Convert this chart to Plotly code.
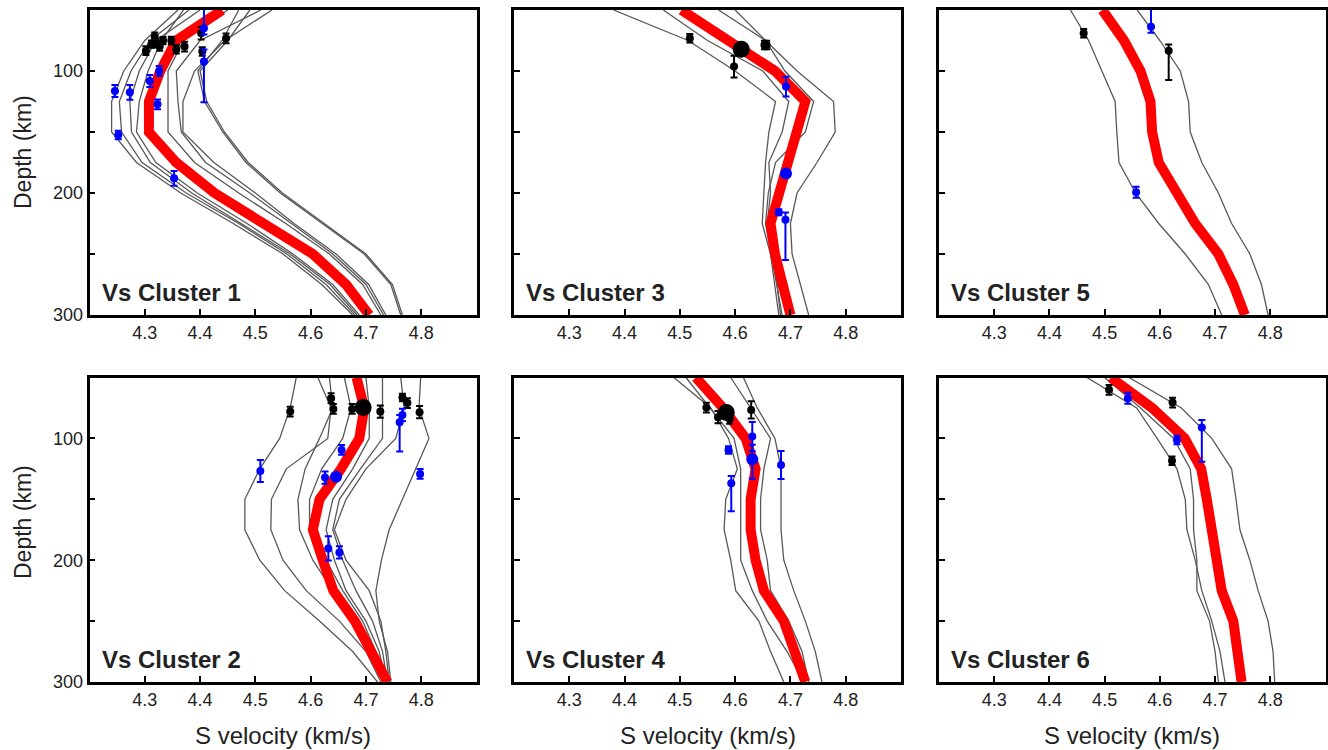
import plotly.graph_objects as go

# ---------------- data ----------------
depth_nodes = [50, 75, 100, 125, 150, 175, 200, 225, 250, 275, 300]

# Cluster 1
c1_mean = [4.44, 4.357, 4.328, 4.3075, 4.3075, 4.357, 4.426, 4.515, 4.604, 4.664, 4.706]
c1_models = [
    [4.36, 4.30, 4.262, 4.240, 4.240, 4.285, 4.365, 4.46, 4.550, 4.620, 4.676],
    [4.38, 4.31, 4.275, 4.254, 4.258, 4.295, 4.375, 4.47, 4.557, 4.628, 4.680],
    [4.40, 4.32, 4.29, 4.273, 4.276, 4.31, 4.385, 4.475, 4.563, 4.635, 4.684],
    [4.37, 4.33, 4.306, 4.29, 4.285, 4.32, 4.395, 4.485, 4.568, 4.64, 4.688],
    [4.45, 4.37, 4.342, 4.342, 4.342, 4.39, 4.47, 4.555, 4.634, 4.694, 4.727],
    [4.51, 4.40, 4.357, 4.36, 4.366, 4.41, 4.49, 4.565, 4.640, 4.70, 4.732],
    [4.53, 4.445, 4.39, 4.369, 4.369, 4.425, 4.50, 4.57, 4.646, 4.705, 4.736],
    [4.47, 4.44, 4.396, 4.408, 4.441, 4.483, 4.545, 4.62, 4.697, 4.745, 4.763],
    [4.49, 4.45, 4.40, 4.412, 4.444, 4.487, 4.549, 4.624, 4.700, 4.748, 4.766],
]
c1_black_v = [4.302, 4.312, 4.318, 4.320, 4.327, 4.333, 4.348, 4.357, 4.372, 4.402, 4.404, 4.447]
c1_black_d = [83.3, 78.0, 71.9, 77.3, 80.0, 75.1, 75.0, 82.2, 80.0, 69.1, 84.1, 73.2]
c1_black_ep = [3.5, 3, 3.5, 3.5, 3.5, 3, 3, 3.5, 4, 5, 3.5, 4]
c1_black_em = [3.5, 3, 3.5, 3.5, 3.5, 3, 3, 3.5, 4, 5, 3.5, 4]
c1_blue_v = [4.246, 4.273, 4.252, 4.309, 4.326, 4.323, 4.353, 4.407, 4.407]
c1_blue_d = [116.4, 117.5, 152.4, 108.2, 100.0, 127.3, 188.0, 65.0, 92.3]
c1_blue_ep = [5, 6, 3.5, 5, 4, 4, 6, 5, 33.4]
c1_blue_em = [5, 6, 3.5, 5, 4, 4, 6, 20, 10]
c1_bigblack_v, c1_bigblack_d = [], []
c1_bigblue_v, c1_bigblue_d = [], []

# Cluster 2
c2_mean = [4.683, 4.697, 4.688, 4.655, 4.616, 4.604, 4.622, 4.641, 4.680, 4.712, 4.739]
c2_models = [
    [4.574, 4.563, 4.544, 4.508, 4.481, 4.481, 4.508, 4.553, 4.616, 4.676, 4.721],
    [4.613, 4.637, 4.631, 4.556, 4.529, 4.528, 4.550, 4.592, 4.652, 4.700, 4.727],
    [4.634, 4.640, 4.616, 4.590, 4.577, 4.580, 4.604, 4.640, 4.688, 4.712, 4.730],
    [4.661, 4.673, 4.658, 4.620, 4.598, 4.598, 4.628, 4.658, 4.694, 4.718, 4.733],
    [4.700, 4.706, 4.706, 4.676, 4.640, 4.628, 4.643, 4.664, 4.700, 4.724, 4.736],
    [4.730, 4.730, 4.730, 4.690, 4.652, 4.640, 4.658, 4.682, 4.712, 4.730, 4.739],
    [4.763, 4.769, 4.754, 4.700, 4.664, 4.643, 4.664, 4.706, 4.727, 4.736, 4.742],
    [4.799, 4.796, 4.814, 4.790, 4.765, 4.742, 4.728, 4.718, 4.724, 4.739, 4.745],
]
c2_black_v = [4.563, 4.637, 4.641, 4.675, 4.726, 4.766, 4.775, 4.797]
c2_black_d = [78.0, 67.0, 75.8, 75.8, 78.0, 66.4, 71.0, 78.5]
c2_black_ep = [4, 4, 4, 4, 5, 3, 4, 5]
c2_black_em = [4, 4, 4, 4, 5, 3, 4, 5]
c2_blue_v = [4.509, 4.626, 4.656, 4.761, 4.766, 4.798, 4.632, 4.652]
c2_blue_d = [126.7, 132.2, 109.5, 86.7, 80.7, 129.2, 190.3, 193.6]
c2_blue_ep = [9, 5, 4, 24, 5, 4, 10, 5]
c2_blue_em = [9, 5, 4, 6, 5, 4, 10, 5]
c2_bigblack_v, c2_bigblack_d = [4.695], [74.7]
c2_bigblue_v, c2_bigblue_d = [4.646], [131.4]

# Cluster 3
c3_mean = [4.503, 4.587, 4.672, 4.727, 4.712, 4.697, 4.680, 4.664, 4.672, 4.685, 4.700]
c3_models = [
    [4.38, 4.515, 4.600, 4.673, 4.661, 4.655, 4.652, 4.649, 4.664, 4.672, 4.679],
    [4.47, 4.55, 4.650, 4.697, 4.685, 4.661, 4.664, 4.658, 4.668, 4.676, 4.682],
    [4.57, 4.655, 4.690, 4.742, 4.727, 4.673, 4.660, 4.655, 4.665, 4.675, 4.685],
    [4.60, 4.655, 4.712, 4.778, 4.781, 4.748, 4.712, 4.700, 4.703, 4.718, 4.733],
]
c3_black_v = [4.518, 4.598, 4.653, 4.657]
c3_black_d = [73.2, 96.4, 78.7, 78.7]
c3_black_ep = [3.5, 9, 3.5, 3.5]
c3_black_em = [3.5, 9, 3.5, 3.5]
c3_blue_v = [4.692, 4.679, 4.691]
c3_blue_d = [112.8, 215.8, 222.0]
c3_blue_ep = [8, 2.5, 33]
c3_blue_em = [8, 2.5, 6]
c3_bigblack_v, c3_bigblack_d = [4.611], [82.2]
c3_bigblue_v, c3_bigblue_d = [4.692], [184.0]

# Cluster 4
c4_mean = [4.529, 4.578, 4.619, 4.637, 4.628, 4.628, 4.637, 4.652, 4.688, 4.709, 4.727]
c4_models = [
    [4.489, 4.556, 4.588, 4.604, 4.583, 4.580, 4.592, 4.601, 4.643, 4.664, 4.688],
    [4.511, 4.555, 4.598, 4.610, 4.610, 4.610, 4.610, 4.631, 4.658, 4.694, 4.724],
    [4.592, 4.628, 4.664, 4.652, 4.646, 4.646, 4.658, 4.664, 4.697, 4.721, 4.733],
    [4.615, 4.640, 4.672, 4.683, 4.683, 4.683, 4.688, 4.706, 4.727, 4.745, 4.757],
]
c4_black_v = [4.548, 4.569, 4.590, 4.629]
c4_black_d = [74.7, 82.6, 84.0, 76.6]
c4_black_ep = [4, 5, 4, 7]
c4_black_em = [4, 5, 4, 7]
c4_blue_v = [4.588, 4.631, 4.593, 4.683, 4.631]
c4_blue_d = [109.5, 98.5, 136.9, 121.8, 117.2]
c4_blue_ep = [3, 12, 23, 11.5, 16]
c4_blue_em = [3, 12, 6, 11.5, 12]
c4_bigblack_v, c4_bigblack_d = [4.584], [78.8]
c4_bigblue_v, c4_bigblue_d = [4.631], [117.2]

# Cluster 5
c5_mean = [4.496, 4.535, 4.565, 4.583, 4.586, 4.598, 4.631, 4.664, 4.706, 4.733, 4.754]
c5_models = [
    [4.438, 4.471, 4.495, 4.519, 4.522, 4.526, 4.556, 4.598, 4.646, 4.688, 4.712],
    [4.559, 4.600, 4.637, 4.652, 4.655, 4.676, 4.706, 4.730, 4.763, 4.784, 4.796],
]
c5_black_v = [4.462, 4.616]
c5_black_d = [69.1, 83.3]
c5_black_ep = [3.5, 24]
c5_black_em = [3.5, 5]
c5_blue_v = [4.584, 4.557]
c5_blue_d = [63.7, 199.4]
c5_blue_ep = [5, 4.5]
c5_blue_em = [15, 4.5]
c5_bigblack_v, c5_bigblack_d = [], []
c5_bigblue_v, c5_bigblue_d = [], []

# Cluster 6
c6_mean = [4.511, 4.586, 4.645, 4.675, 4.685, 4.694, 4.706, 4.712, 4.733, 4.742, 4.748]
c6_models = [
    [4.468, 4.558, 4.595, 4.631, 4.646, 4.649, 4.664, 4.676, 4.694, 4.709, 4.718],
    [4.500, 4.565, 4.625, 4.655, 4.661, 4.661, 4.667, 4.667, 4.690, 4.700, 4.706],
    [4.544, 4.639, 4.694, 4.730, 4.738, 4.745, 4.763, 4.778, 4.796, 4.805, 4.808],
]
c6_black_v = [4.508, 4.623, 4.622]
c6_black_d = [60.1, 70.6, 118.3]
c6_black_ep = [4, 4, 3.5]
c6_black_em = [4, 4, 3.5]
c6_blue_v = [4.542, 4.631, 4.676]
c6_blue_d = [67.0, 101.3, 91.1]
c6_blue_ep = [4.5, 3.5, 28]
c6_blue_em = [4.5, 3.5, 6.3]
c6_bigblack_v, c6_bigblack_d = [], []
c6_bigblue_v, c6_bigblue_d = [], []

x_ticks = [4.3, 4.4, 4.5, 4.6, 4.7, 4.8]
y_ticks = [100, 150, 200, 250, 300]
y_ticktext = ["100", "", "200", "", "300"]

clusters = {
    1: (c1_mean, c1_models, c1_black_v, c1_black_d, c1_black_ep, c1_black_em,
        c1_blue_v, c1_blue_d, c1_blue_ep, c1_blue_em,
        c1_bigblack_v, c1_bigblack_d, c1_bigblue_v, c1_bigblue_d),
    2: (c2_mean, c2_models, c2_black_v, c2_black_d, c2_black_ep, c2_black_em,
        c2_blue_v, c2_blue_d, c2_blue_ep, c2_blue_em,
        c2_bigblack_v, c2_bigblack_d, c2_bigblue_v, c2_bigblue_d),
    3: (c3_mean, c3_models, c3_black_v, c3_black_d, c3_black_ep, c3_black_em,
        c3_blue_v, c3_blue_d, c3_blue_ep, c3_blue_em,
        c3_bigblack_v, c3_bigblack_d, c3_bigblue_v, c3_bigblue_d),
    4: (c4_mean, c4_models, c4_black_v, c4_black_d, c4_black_ep, c4_black_em,
        c4_blue_v, c4_blue_d, c4_blue_ep, c4_blue_em,
        c4_bigblack_v, c4_bigblack_d, c4_bigblue_v, c4_bigblue_d),
    5: (c5_mean, c5_models, c5_black_v, c5_black_d, c5_black_ep, c5_black_em,
        c5_blue_v, c5_blue_d, c5_blue_ep, c5_blue_em,
        c5_bigblack_v, c5_bigblack_d, c5_bigblue_v, c5_bigblue_d),
    6: (c6_mean, c6_models, c6_black_v, c6_black_d, c6_black_ep, c6_black_em,
        c6_blue_v, c6_blue_d, c6_blue_ep, c6_blue_em,
        c6_bigblack_v, c6_bigblack_d, c6_bigblue_v, c6_bigblue_d),
}

# ---------------- layout geometry ----------------
W, H = 1328, 750
cols_px = [(89.5, 476.5), (514.0, 901.0), (939.0, 1325.5)]
rows_px = [(10.0, 315.0), (377.5, 682.0)]
# panel order: row 1 -> clusters 1,3,5 ; row 2 -> clusters 2,4,6
panel_cluster = [[1, 3, 5], [2, 4, 6]]

FONT = "Liberation Sans, Arial, Helvetica, sans-serif"
TXT = "#222222"

fig = go.Figure()
layout = dict(
    width=W, height=H, margin=dict(l=0, r=0, t=0, b=0, autoexpand=False),
    paper_bgcolor="white", plot_bgcolor="white", showlegend=False,
    font=dict(family=FONT, color=TXT, size=18),
)
annotations = []

idx = 0
for r in range(2):
    for c in range(3):
        idx += 1
        cid = panel_cluster[r][c]
        (mean, models, bv, bd, bep, bem, uv, ud, uep, uem,
         bbv, bbd, ubv, ubd) = clusters[cid]
        xa = "x" if idx == 1 else f"x{idx}"
        ya = "y" if idx == 1 else f"y{idx}"
        for m in models:
            fig.add_trace(go.Scatter(x=m, y=depth_nodes, mode="lines",
                                     line=dict(color="#585858", width=1.3),
                                     xaxis=xa, yaxis=ya, hoverinfo="skip"))
        fig.add_trace(go.Scatter(x=mean, y=depth_nodes, mode="lines",
                                 line=dict(color="#ff0000", width=10),
                                 xaxis=xa, yaxis=ya))
        fig.add_trace(go.Scatter(x=bv, y=bd, mode="markers",
                                 marker=dict(color="black", size=8),
                                 error_y=dict(type="data", array=bep, arrayminus=bem,
                                              color="black", thickness=2, width=3.5),
                                 xaxis=xa, yaxis=ya))
        fig.add_trace(go.Scatter(x=uv, y=ud, mode="markers",
                                 marker=dict(color="#0000ff", size=8),
                                 error_y=dict(type="data", array=uep, arrayminus=uem,
                                              color="#0000ff", thickness=2, width=3.5),
                                 xaxis=xa, yaxis=ya))
        if bbv:
            fig.add_trace(go.Scatter(x=bbv, y=bbd, mode="markers",
                                     marker=dict(color="black", size=17),
                                     xaxis=xa, yaxis=ya))
        if ubv:
            fig.add_trace(go.Scatter(x=ubv, y=ubd, mode="markers",
                                     marker=dict(color="#0000ff", size=12),
                                     xaxis=xa, yaxis=ya))

        x0, x1 = cols_px[c]
        y0, y1 = rows_px[r]
        kx = "xaxis" if idx == 1 else f"xaxis{idx}"
        ky = "yaxis" if idx == 1 else f"yaxis{idx}"
        layout[kx] = dict(
            domain=[x0 / W, x1 / W], anchor=ya, range=[4.2, 4.9],
            tickvals=x_ticks, ticktext=[f"{v:.1f}" for v in x_ticks],
            ticks="inside", ticklen=6, tickwidth=1.5, tickcolor="black",
            showline=True, linecolor="black", linewidth=2.5, mirror=True,
            showgrid=False, zeroline=False, automargin=False,
            tickfont=dict(size=18, color=TXT),
        )
        layout[ky] = dict(
            domain=[1 - y1 / H, 1 - y0 / H], anchor=xa, range=[300, 50],
            tickvals=y_ticks, ticktext=y_ticktext,
            ticks="inside", ticklen=6, tickwidth=1.5, tickcolor="black",
            showline=True, linecolor="black", linewidth=2.5, mirror=True,
            showgrid=False, zeroline=False, showticklabels=(c == 0),
            automargin=False, tickfont=dict(size=18, color=TXT),
        )
        annotations.append(dict(
            text=f"<b>Vs Cluster {cid}</b>", xref="paper", yref="paper",
            x=(x0 + 10) / W, y=1 - (y1 - 7) / H, xanchor="left", yanchor="bottom",
            showarrow=False, font=dict(size=24, color=TXT, family=FONT)))
        if r == 1:
            annotations.append(dict(
                text="S velocity (km/s)", xref="paper", yref="paper",
                x=(x0 + x1) / 2 / W, y=1 - 735 / H, xanchor="center", yanchor="middle",
                showarrow=False, font=dict(size=24, color=TXT, family=FONT)))
        if c == 0:
            annotations.append(dict(
                text="Depth (km)", xref="paper", yref="paper", textangle=-90,
                x=23 / W, y=1 - (152 if r == 0 else 522) / H,
                xanchor="center", yanchor="middle",
                showarrow=False, font=dict(size=23, color=TXT, family=FONT)))

layout["annotations"] = annotations
fig.update_layout(**layout)
fig.write_html("out.html")
